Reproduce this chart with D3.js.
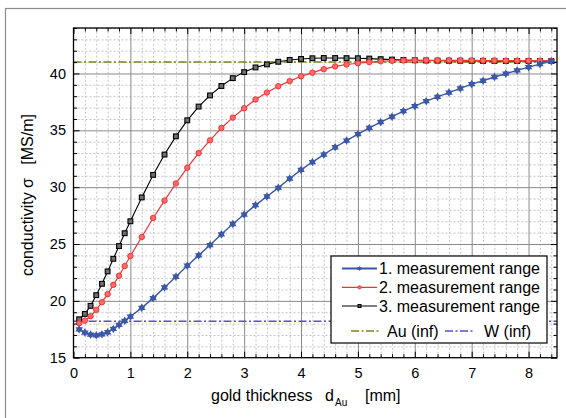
<!DOCTYPE html>
<html>
<head>
<meta charset="utf-8">
<script src="https://cdn.jsdelivr.net/npm/d3@7"></script>
<style>
  body { margin: 0; background: #fff; }
  svg { font-family: "Liberation Sans", Arial, sans-serif; }
  .grid-major line { stroke: #8a8a8a; stroke-width: 1; }
  .grid-minor line { stroke: #c4c4c4; stroke-width: 1; stroke-dasharray: 2,2; }
  .grid-major path, .grid-minor path { display: none; }
  .axis path { display: none; }
  .axis line { stroke: #000; stroke-width: 1; }
  .axis text { font-size: 14.5px; fill: #000; }
</style>
</head>
<body>
<div id="vis"></div>
<script>
// gold thickness [mm]
var thickness = [0.1, 0.2, 0.3, 0.4, 0.5, 0.6, 0.7, 0.8, 0.9, 1.0,
  1.2, 1.4, 1.6, 1.8, 2.0, 2.2, 2.4, 2.6, 2.8, 3.0, 3.2, 3.4, 3.6, 3.8, 4.0,
  4.2, 4.4, 4.6, 4.8, 5.0, 5.2, 5.4, 5.6, 5.8, 6.0, 6.2, 6.4, 6.6, 6.8, 7.0,
  7.2, 7.4, 7.6, 7.8, 8.0, 8.2, 8.4];
// 1. measurement range
var range1 = [17.5, 17.21, 17.03, 16.97, 17.06, 17.24, 17.53, 17.88, 18.24, 18.62,
  19.38, 20.24, 21.18, 22.12, 23.09, 24.0, 24.91, 25.85, 26.76, 27.59, 28.42, 29.18, 29.94, 30.76, 31.52,
  32.21, 32.86, 33.51, 34.1, 34.66, 35.21, 35.72, 36.2, 36.69, 37.12, 37.56, 37.94, 38.32, 38.69, 39.06,
  39.36, 39.69, 39.98, 40.27, 40.56, 40.82, 41.07];
// 2. measurement range
var range2 = [18.03, 18.26, 18.65, 19.21, 19.88, 20.59, 21.41, 22.21, 23.06, 23.94,
  25.62, 27.29, 28.82, 30.32, 31.71, 33.0, 34.12, 35.21, 36.12, 36.94, 37.71, 38.32, 38.88, 39.33, 39.75,
  40.07, 40.38, 40.62, 40.79, 40.9, 41.0, 41.07, 41.12, 41.14, 41.16, 41.16, 41.16, 41.16, 41.15, 41.15,
  41.14, 41.14, 41.13, 41.13, 41.12, 41.12, 41.11];
// 3. measurement range
var range3 = [18.38, 18.85, 19.56, 20.5, 21.5, 22.59, 23.7, 24.82, 25.95, 27.0,
  29.1, 31.08, 32.87, 34.47, 35.88, 37.09, 38.07, 38.9, 39.59, 40.12, 40.53, 40.8, 41.03, 41.19, 41.28,
  41.34, 41.36, 41.36, 41.35, 41.34, 41.31, 41.26, 41.22, 41.18, 41.16, 41.14, 41.13, 41.12, 41.12, 41.11,
  41.11, 41.11, 41.1, 41.1, 41.1, 41.1, 41.1];
// bulk conductivities
var sigmaAu = 41.0;
var sigmaW = 18.2;

var xTicks = [0, 1, 2, 3, 4, 5, 6, 7, 8];
var yTicks = [15, 20, 25, 30, 35, 40];
var seriesNames = ['1. measurement range', '2. measurement range', '3. measurement range'];

(function() {
  var W = 566, H = 418;
  var left = 73.5, right = 557, top = 28, bottom = 357.7;
  var BLUE = '#3b57a7', RED = '#f03434', BLACK = '#000', OLIVE = '#808020', VIOLET = '#5a50c4';
  var DASHDOT = '8,2.5,2,2.5';

  var svg = d3.select('#vis').append('svg').attr('width', W).attr('height', H);

  // outer frame
  svg.append('rect').attr('x', 5.5).attr('y', 8.5).attr('width', 600).attr('height', 450)
    .attr('fill', 'none').attr('stroke', '#8c8c8c').attr('stroke-width', 1.2);

  var x = d3.scaleLinear().domain([0, 8.5]).range([left, right]);
  var y = d3.scaleLinear().domain([15, 44]).range([bottom, top]);
  var pw = right - left, ph = bottom - top;

  var xMinor = d3.range(0, 8.51, 0.2).filter(function(v) { return Math.abs(v - Math.round(v)) > 1e-6; });
  var yMinor = d3.range(15, 44.01, 1).filter(function(v) { return v % 5 !== 0; });

  // grid
  svg.append('g').attr('class', 'grid-minor').attr('transform', 'translate(0,' + bottom + ')')
    .call(d3.axisBottom(x).tickValues(xMinor).tickSize(-ph).tickFormat(''));
  svg.append('g').attr('class', 'grid-minor').attr('transform', 'translate(' + left + ',0)')
    .call(d3.axisLeft(y).tickValues(yMinor).tickSize(-pw).tickFormat(''));
  svg.append('g').attr('class', 'grid-major').attr('transform', 'translate(0,' + bottom + ')')
    .call(d3.axisBottom(x).tickValues(xTicks.slice(1)).tickSize(-ph).tickFormat(''));
  svg.append('g').attr('class', 'grid-major').attr('transform', 'translate(' + left + ',0)')
    .call(d3.axisLeft(y).tickValues(yTicks.slice(1)).tickSize(-pw).tickFormat(''));

  // reference levels
  svg.append('line').attr('x1', x(0)).attr('x2', x(8.5)).attr('y1', y(sigmaAu)).attr('y2', y(sigmaAu))
    .attr('stroke', OLIVE).attr('stroke-width', 1.5).attr('stroke-dasharray', DASHDOT);
  svg.append('line').attr('x1', x(0)).attr('x2', x(8.5)).attr('y1', y(sigmaW)).attr('y2', y(sigmaW))
    .attr('stroke', VIOLET).attr('stroke-width', 1.5).attr('stroke-dasharray', DASHDOT);

  var line = d3.line().x(function(d) { return x(d[0]); }).y(function(d) { return y(d[1]); });
  var tri = d3.symbol().type(d3.symbolTriangle);

  function pts(vals) {
    return thickness.map(function(t, i) { return [t, vals[i]]; });
  }

  function drawMarker(g, kind, cx, cy, s) {
    if (kind === 'star') {
      g.append('path').attr('d', tri.size(24 * s * s)()).attr('transform', 'translate(' + cx + ',' + cy + ')')
        .attr('fill', BLUE);
      g.append('path').attr('d', tri.size(24 * s * s)()).attr('transform', 'translate(' + cx + ',' + cy + ') rotate(180)')
        .attr('fill', BLUE);
    } else if (kind === 'circle') {
      g.append('circle').attr('cx', cx).attr('cy', cy).attr('r', 2.7 * s)
        .attr('fill', '#ff6a6a').attr('stroke', RED).attr('stroke-width', 1);
    } else {
      g.append('rect').attr('x', cx - 2.4 * s).attr('y', cy - 2.4 * s).attr('width', 4.8 * s).attr('height', 4.8 * s)
        .attr('fill', '#707070').attr('stroke', BLACK).attr('stroke-width', 1.1);
    }
  }

  var series = [
    { vals: range3, color: BLACK, kind: 'square', w: 1.1 },
    { vals: range2, color: RED, kind: 'circle', w: 1.2 },
    { vals: range1, color: BLUE, kind: 'star', w: 1.4 }
  ];
  series.forEach(function(s) {
    var g = svg.append('g');
    var data = pts(s.vals);
    g.append('path').datum(data).attr('d', line).attr('fill', 'none')
      .attr('stroke', s.color).attr('stroke-width', s.w);
    data.forEach(function(d) { drawMarker(g, s.kind, x(d[0]), y(d[1]), 1); });
  });

  // legend
  var lg = svg.append('g');
  lg.append('rect').attr('x', 331).attr('y', 256).attr('width', 216).attr('height', 87)
    .attr('fill', '#fff').attr('stroke', '#000').attr('stroke-width', 1.2);
  var rows = [
    { name: seriesNames[0], color: BLUE, kind: 'star', w: 2, y: 268.5 },
    { name: seriesNames[1], color: RED, kind: 'circle', w: 1.2, y: 287.3 },
    { name: seriesNames[2], color: BLACK, kind: 'square', w: 1.2, y: 306 }
  ];
  rows.forEach(function(r) {
    lg.append('line').attr('x1', 342).attr('x2', 377).attr('y1', r.y).attr('y2', r.y)
      .attr('stroke', r.color).attr('stroke-width', r.w);
    drawMarker(lg, r.kind, 359.5, r.y, 0.6);
    lg.append('text').attr('x', 379).attr('y', r.y + 5.6).attr('font-size', '16px').text(r.name);
  });
  lg.append('line').attr('x1', 351).attr('x2', 381).attr('y1', 331).attr('y2', 331)
    .attr('stroke', OLIVE).attr('stroke-width', 1.3).attr('stroke-dasharray', DASHDOT);
  lg.append('text').attr('x', 387).attr('y', 336.6).attr('font-size', '16px').text('Au (inf)');
  lg.append('line').attr('x1', 445).attr('x2', 474).attr('y1', 331).attr('y2', 331)
    .attr('stroke', VIOLET).attr('stroke-width', 1.3).attr('stroke-dasharray', DASHDOT);
  lg.append('text').attr('x', 484).attr('y', 336.6).attr('font-size', '16px').text('W (inf)');

  // axes with inward ticks on all sides
  svg.append('g').attr('class', 'axis').attr('transform', 'translate(0,' + bottom + ')')
    .call(d3.axisBottom(x).tickValues(xMinor).tickSize(-3.5).tickFormat(''));
  svg.append('g').attr('class', 'axis').attr('transform', 'translate(0,' + bottom + ')')
    .call(d3.axisBottom(x).tickValues(xTicks).tickSize(-6).tickPadding(9.7).tickFormat(d3.format('d')));
  svg.append('g').attr('class', 'axis').attr('transform', 'translate(0,' + top + ')')
    .call(d3.axisTop(x).tickValues(xMinor).tickSize(-3.5).tickFormat(''));
  svg.append('g').attr('class', 'axis').attr('transform', 'translate(0,' + top + ')')
    .call(d3.axisTop(x).tickValues(xTicks).tickSize(-6).tickFormat(''));
  svg.append('g').attr('class', 'axis').attr('transform', 'translate(' + left + ',0)')
    .call(d3.axisLeft(y).tickValues(yMinor).tickSize(-3.5).tickFormat(''));
  svg.append('g').attr('class', 'axis').attr('transform', 'translate(' + left + ',0)')
    .call(d3.axisLeft(y).tickValues(yTicks).tickSize(-6).tickPadding(7.5).tickFormat(d3.format('d')));
  svg.append('g').attr('class', 'axis').attr('transform', 'translate(' + right + ',0)')
    .call(d3.axisRight(y).tickValues(yMinor).tickSize(-3.5).tickFormat(''));
  svg.append('g').attr('class', 'axis').attr('transform', 'translate(' + right + ',0)')
    .call(d3.axisRight(y).tickValues(yTicks).tickSize(-6).tickFormat(''));

  svg.append('rect').attr('x', left).attr('y', top).attr('width', pw).attr('height', ph)
    .attr('fill', 'none').attr('stroke', '#000').attr('stroke-width', 1.3);

  // axis titles
  svg.append('text').attr('transform', 'translate(33,195) rotate(-90)')
    .attr('text-anchor', 'middle').attr('font-size', '16px').style('white-space', 'pre')
    .text('conductivity σ   [MS/m]');
  var xt = svg.append('text').attr('y', 401).attr('font-size', '16px').style('white-space', 'pre');
  xt.append('tspan').attr('x', 211).text('gold thickness');
  xt.append('tspan').attr('x', 325).text('d');
  xt.append('tspan').attr('x', 335).attr('dy', 4.5).attr('font-size', '10px').text('Au');
  xt.append('tspan').attr('x', 365).attr('dy', -4.5).text('[mm]');
})();
</script>
</body>
</html>
